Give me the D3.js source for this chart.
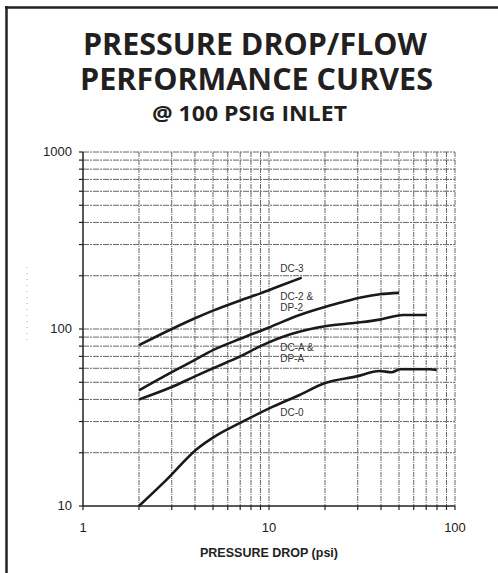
<!DOCTYPE html>
<html>
<head>
<meta charset="utf-8">
<script src="https://cdn.jsdelivr.net/npm/d3@7"></script>
<style>
  body { margin: 0; background: #fff; }
  svg { display: block; }
</style>
</head>
<body>
<svg width="498" height="573"></svg>
<script>
// pressure drop (psi) vs flow
var dc3X = [2, 3, 4, 5, 7, 9, 11.4, 15];
var dc3Y = [81, 100, 115, 127, 145, 159, 175, 195];

var dc2X = [2, 3, 4, 5, 7, 10, 14.6, 20.4, 25, 30.7, 39.4, 50];
var dc2Y = [45, 57, 67, 76, 88, 102, 120, 134, 142, 150, 157, 160];

var dcaX = [2, 3, 4, 5, 7, 9, 12.9, 20.4, 29.5, 39.4, 52.6, 70.5];
var dcaY = [40, 47, 54, 60, 70, 80, 93, 104, 108.5, 113, 120, 120];

var dc0X = [2, 2.8, 4.1, 5.2, 7, 10.5, 14.6, 20, 29.5, 39.4, 45.6, 50.7, 73.5, 79.6];
var dc0Y = [10, 14, 21, 25, 29.5, 36.4, 42.4, 49.5, 54, 57.9, 57, 59.2, 59.2, 58.6];

var xTicks = [1, 10, 100];
var yTicks = [10, 100, 1000];

var curveLabels = [
  { lines: ["DC-3"], x: 11.5, y: 210 },
  { lines: ["DC-2 &", "DP-2"], x: 11.5, y: 146 },
  { lines: ["DC-A &", "DP-A"], x: 11.5, y: 75 },
  { lines: ["DC-0"], x: 11.5, y: 32.2 }
];

var svg = d3.select("svg");

var x = d3.scaleLog().domain([1, 100]).range([83, 455]);
var y = d3.scaleLog().domain([10, 1000]).range([506, 152]);

// frame
svg.append("line").attr("x1", 5).attr("x2", 498).attr("y1", 7.5).attr("y2", 7.5)
  .style("stroke", "#222").style("stroke-width", 2.5);
svg.append("line").attr("x1", 6.5).attr("x2", 6.5).attr("y1", 6).attr("y2", 573)
  .style("stroke", "#222").style("stroke-width", 2.5);

// titles
var title = svg.append("g")
  .style("font-family", "'Open Sans', 'DejaVu Sans', sans-serif")
  .style("font-weight", "700")
  .style("fill", "#231f20")
  .attr("text-anchor", "middle");
title.append("text").attr("x", 255).attr("y", 55).style("font-size", "30px")
  .attr("textLength", 344).attr("lengthAdjust", "spacingAndGlyphs")
  .text("PRESSURE DROP/FLOW");
title.append("text").attr("x", 256.5).attr("y", 90).style("font-size", "30px")
  .attr("textLength", 353).attr("lengthAdjust", "spacingAndGlyphs")
  .text("PERFORMANCE CURVES");
title.append("text").attr("x", 249.5).attr("y", 121).style("font-size", "21px")
  .attr("textLength", 195).attr("lengthAdjust", "spacingAndGlyphs")
  .text("@ 100 PSIG INLET");

// grid
var xGrid = [];
var yGrid = [];
[1, 10].forEach(function(d) {
  for (var i = 2; i <= 10; i++) xGrid.push(d * i);
});
[10, 100].forEach(function(d) {
  for (var i = 2; i <= 10; i++) yGrid.push(d * i);
});

var grid = svg.append("g");
grid.selectAll(".vg")
  .data(xGrid)
  .enter()
  .append("line")
  .attr("x1", function(d) { return x(d); })
  .attr("x2", function(d) { return x(d); })
  .attr("y1", y(1000))
  .attr("y2", y(10))
  .style("stroke", "#666")
  .style("stroke-width", 1)
  .style("stroke-dasharray", "5,1,1,1");
grid.selectAll(".hg")
  .data(yGrid)
  .enter()
  .append("line")
  .attr("x1", x(1))
  .attr("x2", x(100))
  .attr("y1", function(d) { return y(d); })
  .attr("y2", function(d) { return y(d); })
  .style("stroke", "#666")
  .style("stroke-width", 1)
  .style("stroke-dasharray", "6,1,2,1");

// axes lines
svg.append("line").attr("x1", x(1)).attr("x2", x(1)).attr("y1", y(1000)).attr("y2", y(10))
  .style("stroke", "#222").style("stroke-width", 1.5);
svg.append("line").attr("x1", x(1)).attr("x2", x(100)).attr("y1", y(10)).attr("y2", y(10))
  .style("stroke", "#222").style("stroke-width", 1.5);

// small tick marks
svg.selectAll(".yt")
  .data([10].concat(yGrid))
  .enter()
  .append("line")
  .attr("x1", x(1) - 4)
  .attr("x2", x(1))
  .attr("y1", function(d) { return y(d); })
  .attr("y2", function(d) { return y(d); })
  .style("stroke", "#222")
  .style("stroke-width", 1.2);
svg.selectAll(".xt")
  .data([1].concat(xGrid))
  .enter()
  .append("line")
  .attr("x1", function(d) { return x(d); })
  .attr("x2", function(d) { return x(d); })
  .attr("y1", y(10))
  .attr("y2", y(10) + 4)
  .style("stroke", "#222")
  .style("stroke-width", 1.2);

// tick labels
var lab = svg.append("g")
  .style("font-family", "'Liberation Sans', Arial, sans-serif")
  .style("font-size", "13px")
  .style("fill", "#222");
lab.selectAll(".yl")
  .data(yTicks)
  .enter()
  .append("text")
  .attr("x", 72)
  .attr("y", function(d) { return y(d) + 4; })
  .attr("text-anchor", "end")
  .text(function(d) { return d; });
lab.selectAll(".xl")
  .data(xTicks)
  .enter()
  .append("text")
  .attr("x", function(d) { return x(d); })
  .attr("y", 532)
  .attr("text-anchor", "middle")
  .text(function(d) { return d; });

svg.append("text")
  .attr("x", 269)
  .attr("y", 557)
  .attr("text-anchor", "middle")
  .style("font-family", "'Liberation Sans', Arial, sans-serif")
  .style("font-weight", "700")
  .style("font-size", "12.5px")
  .style("fill", "#222")
  .text("PRESSURE DROP (psi)");

// faded y axis title remnant
svg.append("line").attr("x1", 27).attr("x2", 27).attr("y1", 267).attr("y2", 340)
  .style("stroke", "#aaa").style("stroke-width", 1).style("stroke-dasharray", "1,5");

// curves
var line = d3.line()
  .x(function(d) { return x(d[0]); })
  .y(function(d) { return y(d[1]); })
  .curve(d3.curveMonotoneX);

var series = [[dc3X, dc3Y], [dc2X, dc2Y], [dcaX, dcaY], [dc0X, dc0Y]];
svg.selectAll(".curve")
  .data(series)
  .enter()
  .append("path")
  .attr("d", function(s) { return line(d3.zip(s[0], s[1])); })
  .style("fill", "none")
  .style("stroke", "#1a1a1a")
  .style("stroke-width", 2.6)
  .style("stroke-linejoin", "round");

// curve labels
var cl = svg.selectAll(".cl")
  .data(curveLabels)
  .enter()
  .append("text")
  .attr("x", function(d) { return x(d.x); })
  .attr("y", function(d) { return y(d.y); })
  .style("font-family", "'Liberation Sans', Arial, sans-serif")
  .style("font-size", "10px")
  .style("fill", "#333");
cl.selectAll("tspan")
  .data(function(d) { return d.lines.map(function(t) { return { t: t, x: x(d.x) }; }); })
  .enter()
  .append("tspan")
  .attr("x", function(d) { return d.x; })
  .attr("dy", function(d, i) { return i ? 11 : 0; })
  .text(function(d) { return d.t; });
</script>
</body>
</html>
